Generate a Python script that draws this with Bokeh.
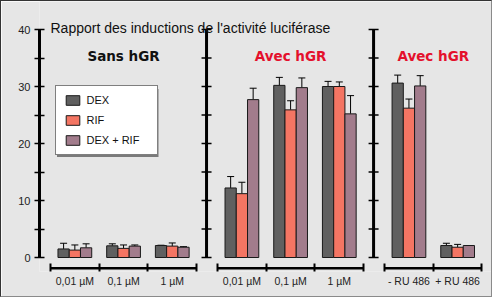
from bokeh.plotting import figure
from bokeh.models import ColumnDataSource, FixedTicker, Range1d, Whisker, TeeHead
from bokeh.core.properties import value
from bokeh.embed import file_html
from bokeh.resources import INLINE

# ---------------- data ----------------
title = "Rapport des inductions de l'activité luciférase"
panel_titles = ["Sans hGR", "Avec hGR", "Avec hGR"]
panel_title_colors = ["#111111", "#e4102c", "#e4102c"]
panel_categories = [
    ["0,01 µM", "0,1 µM", "1 µM"],
    ["0,01 µM", "0,1 µM", "1 µM"],
    ["- RU 486", "+ RU 486"],
]
series_names = ["DEX", "RIF", "DEX + RIF"]
series_colors = ["#606060", "#f47563", "#a27c8c"]

dex = [1.5, 2.05, 2.1, 12.2, 30.2, 30.0, 30.6, 2.1]
dex_err = [1.0, 0.35, 0.05, 2.0, 1.4, 0.9, 1.4, 0.4]
rif = [1.3, 1.6, 2.0, 11.2, 25.9, 30.0, 26.2, 1.8]
rif_err = [0.9, 0.6, 0.55, 2.0, 1.6, 0.8, 1.6, 0.5]
dexrif = [1.7, 2.0, 1.8, 27.7, 29.8, 25.2, 30.1, 2.1]
dexrif_err = [0.7, 0.2, 0.1, 2.0, 1.7, 3.2, 1.8, 0.0]

y_ticks = [0, 10, 20, 30, 40]
y_minor = [5, 15, 25, 35]

# ---------------- layout constants ----------------
BG = "#e6e6e6"
FONT = "Liberation Sans"
SLOT_PX = 48.7
Y_PX = 5.7
panel_offsets = [0.0, 3.43, 6.86]
AXIS_OFF = -0.226
BAR_W = 0.231
X_AXIS_Y = -1.88

W, H = 492, 297          # + 1px border on each side
LEFT, BOTTOM = 38, 27
TOP_PX = 28              # pixel row (inside border) of y = 40
ZERO_PX = 256            # pixel row (inside border) of y = 0
x0 = AXIS_OFF
x1 = x0 + (W - LEFT) / SLOT_PX
y0 = -(H - BOTTOM - ZERO_PX) / Y_PX
y1 = 40 + TOP_PX / Y_PX

# legend box (pixels inside the border) and its drop shadow
LEG_LEFT, LEG_TOP, LEG_W, LEG_H = 53.5, 85.5, 101.5, 68
SHADOW = 2


def px_x(px):
    return x0 + (px - LEFT) / SLOT_PX


def px_y(py):
    return (ZERO_PX - py) / Y_PX


centers, labels, boundaries = [], [], []
for off, cats in zip(panel_offsets, panel_categories):
    for i, c in enumerate(cats):
        centers.append(off + i + 0.5)
        labels.append(c)
    for i in range(len(cats) + 1):
        boundaries.append(off + i)

p = figure(width=W, height=H, x_range=Range1d(x0, x1), y_range=Range1d(y0, y1),
           output_backend="svg", toolbar_location=None, title=None,
           min_border_left=LEFT, min_border_right=0, min_border_top=0,
           min_border_bottom=BOTTOM, background_fill_color=BG,
           border_fill_color=BG, outline_line_color=None)
p.styles = {"border-left": "1px solid #333333", "border-top": "1px solid #333333",
            "border-right": "1px solid #8a8a8a", "border-bottom": "1px solid #8a8a8a"}
p.grid.visible = False

# y axis (panel 1)
ya = p.yaxis[0]
ya.ticker = FixedTicker(ticks=y_ticks, minor_ticks=y_minor)
ya.bounds = (0, 40)
ya.axis_line_width = 3
ya.axis_line_color = "black"
ya.major_tick_in = 5
ya.major_tick_out = 5
ya.minor_tick_in = 5
ya.minor_tick_out = 5
ya.major_tick_line_width = 1.5
ya.minor_tick_line_width = 1.5
ya.major_label_standoff = 4
ya.major_label_text_font = FONT
ya.major_label_text_font_size = "11px"
ya.major_label_text_color = "#222222"

# x axis: labels at slot centres, ticks at slot boundaries
xa = p.xaxis[0]
xa.ticker = FixedTicker(ticks=centers, minor_ticks=boundaries)
xa.major_label_overrides = {c: l for c, l in zip(centers, labels)}
xa.axis_line_color = None
xa.major_tick_in = 0
xa.major_tick_out = 0
xa.minor_tick_in = 8
xa.minor_tick_out = 0
xa.minor_tick_line_width = 2
xa.minor_tick_line_color = "black"
xa.major_label_standoff = 3
xa.major_label_text_font = FONT
xa.major_label_text_font_size = "10.5px"
xa.major_label_text_color = "#222222"

# extra panel y axes and the x axis lines
for k, (off, cats) in enumerate(zip(panel_offsets, panel_categories)):
    p.segment(x0=[off], y0=[X_AXIS_Y], x1=[off + len(cats)], y1=[X_AXIS_Y],
              line_color="black", line_width=2.5)
    if k > 0:
        ax = off + AXIS_OFF
        p.segment(x0=[ax], y0=[0], x1=[ax], y1=[40], line_color="black", line_width=3)
        p.scatter(x=[ax] * (len(y_ticks) + len(y_minor)), y=y_ticks + y_minor,
                  marker="dash", size=10, line_color="black", line_width=1.5)

# bars + error bars
vals = [dex, rif, dexrif]
errs = [dex_err, rif_err, dexrif_err]
for j, (name, col, v, e) in enumerate(zip(series_names, series_colors, vals, errs)):
    xs = [c + (j - 1) * BAR_W for c in centers]
    src = ColumnDataSource(dict(x=xs, top=v, upper=[a + b for a, b in zip(v, e)]))
    p.vbar(x="x", top="top", bottom=0, width=BAR_W, source=src, fill_color=col,
           line_color="#1a1a1a", line_width=1, legend_label=name)
    p.add_layout(Whisker(source=src, base="x", lower="top", upper="upper",
                         dimension="height", line_color="black", line_width=1,
                         upper_head=TeeHead(size=7, line_color="black", line_width=1),
                         lower_head=None))

# legend drop shadow (decoration, drawn under the legend box)
p.quad(left=[px_x(LEG_LEFT + SHADOW)], right=[px_x(LEG_LEFT + LEG_W + SHADOW)],
       top=[px_y(LEG_TOP + SHADOW)], bottom=[px_y(LEG_TOP + LEG_H + SHADOW)],
       fill_color="#7a7a7a", line_color=None)

# texts
p.text(x=[0], y=[40.2], text=[title], text_font=value(FONT), text_font_size="14px",
       text_color="#111111", text_baseline="alphabetic", text_align="left")
p.text(x=[off + len(c) / 2 for off, c in zip(panel_offsets, panel_categories)],
       y=[35.3] * 3, text=panel_titles, text_color=panel_title_colors,
       text_font=value("DejaVu Sans"), text_font_style="bold", text_font_size="13.5px",
       text_baseline="alphabetic", text_align="center")

lg = p.legend[0]
lg.location = (LEG_LEFT - LEFT, H - BOTTOM - (LEG_TOP + LEG_H))
lg.margin = 0
lg.padding = 8
lg.spacing = 8
lg.glyph_width = 17
lg.glyph_height = 12
lg.label_height = 12
lg.label_width = 62
lg.label_standoff = 6
lg.label_text_font = FONT
lg.label_text_font_size = "11px"
lg.label_text_color = "#111111"
lg.border_line_color = "black"
lg.border_line_width = 1
lg.background_fill_color = "white"
lg.background_fill_alpha = 1

open("out.html", "w").write(file_html(p, INLINE))
